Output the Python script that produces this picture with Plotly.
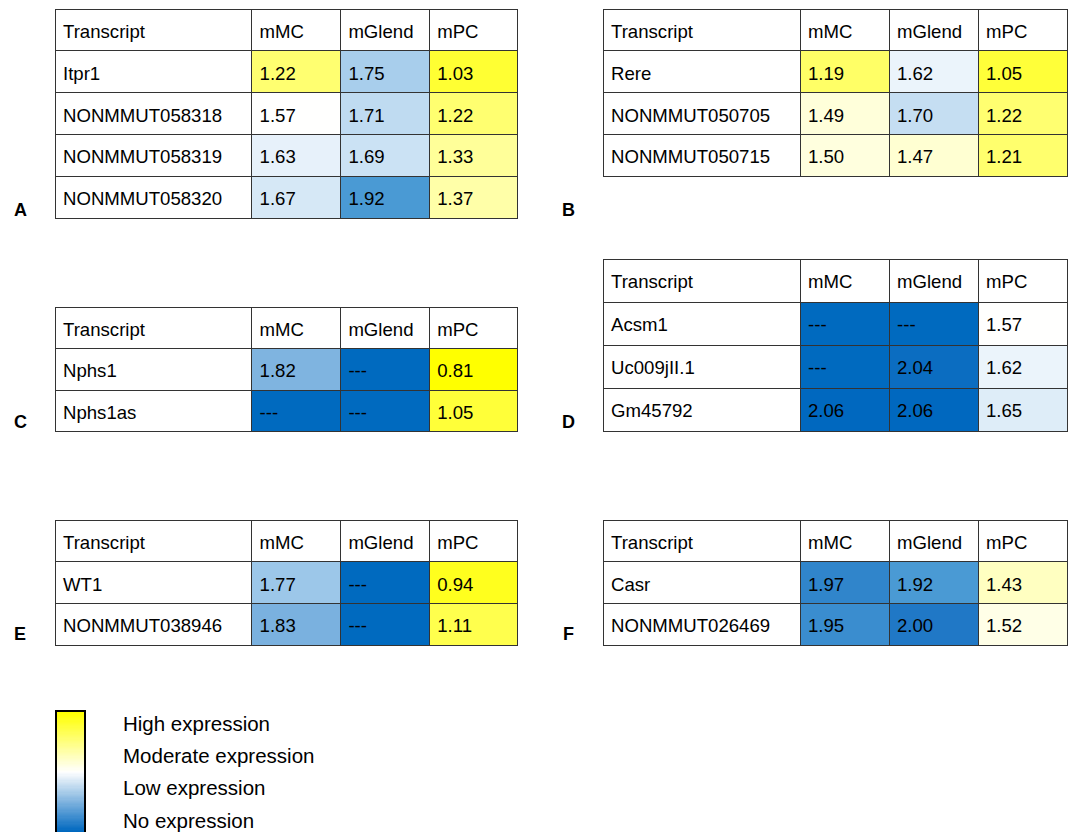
import plotly.graph_objects as go
from plotly.colors import sample_colorscale

# ---------------- data ----------------
columns = ["Transcript", "mMC", "mGlend", "mPC"]

a_transcripts = ["Itpr1", "NONMMUT058318", "NONMMUT058319", "NONMMUT058320"]
a_mMC = [1.22, 1.57, 1.63, 1.67]
a_mGlend = [1.75, 1.71, 1.69, 1.92]
a_mPC = [1.03, 1.22, 1.33, 1.37]

b_transcripts = ["Rere", "NONMMUT050705", "NONMMUT050715"]
b_mMC = [1.19, 1.49, 1.50]
b_mGlend = [1.62, 1.70, 1.47]
b_mPC = [1.05, 1.22, 1.21]

c_transcripts = ["Nphs1", "Nphs1as"]
c_mMC = [1.82, None]
c_mGlend = [None, None]
c_mPC = [0.81, 1.05]

d_transcripts = ["Acsm1", "Uc009jII.1", "Gm45792"]
d_mMC = [None, None, 2.06]
d_mGlend = [None, 2.04, 2.06]
d_mPC = [1.57, 1.62, 1.65]

e_transcripts = ["WT1", "NONMMUT038946"]
e_mMC = [1.77, 1.83]
e_mGlend = [None, None]
e_mPC = [0.94, 1.11]

f_transcripts = ["Casr", "NONMMUT026469"]
f_mMC = [1.97, 1.95]
f_mGlend = [1.92, 2.00]
f_mPC = [1.43, 1.52]

legend_labels = ["High expression", "Moderate expression", "Low expression", "No expression"]
panel_letters = ["A", "B", "C", "D", "E", "F"]

# ---------------- styling ----------------
W, H = 1072, 832
VMIN, VMAX = 0.81, 2.06
cell_scale = [
    [0.0, "#FFFF00"], [0.176, "#FFFF33"], [0.328, "#FFFF70"], [0.448, "#FFFFA8"],
    [0.55, "#FFFFDD"], [0.61, "#FFFFFF"], [0.688, "#D6E8F6"], [0.752, "#A8CEEC"],
    [0.808, "#7FB4E0"], [0.888, "#4A9AD4"], [0.952, "#2078C6"], [1.0, "#0068BF"],
]
FONT = "Liberation Sans, Arial, sans-serif"
FS = 18.6
TEXT_DY = 7          # table text is drawn top-aligned; shift it down to centre it
CLEAR = "rgba(0,0,0,0)"


def color_for(v):
    if v is None:
        return "#006ABF"
    t = min(max((v - VMIN) / (VMAX - VMIN), 0), 1)
    return sample_colorscale(cell_scale, [t])[0]


def fmt(v):
    return "---" if v is None else f"{v:.2f}"


fig = go.Figure()

panels = [
    (a_transcripts, a_mMC, a_mGlend, a_mPC, 55, 9, 41.8),
    (b_transcripts, b_mMC, b_mGlend, b_mPC, 603, 9, 41.8),
    (c_transcripts, c_mMC, c_mGlend, c_mPC, 55, 307, 41.5),
    (d_transcripts, d_mMC, d_mGlend, d_mPC, 603, 259, 43),
    (e_transcripts, e_mMC, e_mGlend, e_mPC, 55, 520, 41.7),
    (f_transcripts, f_mMC, f_mGlend, f_mPC, 603, 520, 41.7),
]
TW = 464
CW = [197, 89, 89, 89]
for tr, m1, m2, m3, left, top, rh in panels:
    n = len(tr)
    bottom = top + rh * (n + 1) + 4
    # grid + fills
    fig.add_trace(go.Table(
        domain=dict(x=[left / W, (left + TW) / W], y=[1 - bottom / H, 1 - top / H]),
        columnwidth=CW,
        header=dict(values=[""] * 4, fill_color="white",
                    line=dict(color="#333333", width=1), height=rh),
        cells=dict(values=[[""] * n] * 4,
                   fill_color=[["white"] * n, [color_for(v) for v in m1],
                               [color_for(v) for v in m2], [color_for(v) for v in m3]],
                   line=dict(color="#333333", width=1), height=rh),
    ))
    # text layer
    t2, b2 = top + TEXT_DY, bottom + TEXT_DY + 6
    fig.add_trace(go.Table(
        domain=dict(x=[left / W, (left + TW) / W], y=[1 - b2 / H, 1 - t2 / H]),
        columnwidth=CW,
        header=dict(values=columns, fill_color=CLEAR, align="left",
                    line=dict(color=CLEAR, width=0), height=rh,
                    font=dict(family=FONT, size=FS, color="black")),
        cells=dict(values=[tr, [fmt(v) for v in m1], [fmt(v) for v in m2], [fmt(v) for v in m3]],
                   fill_color=CLEAR, align="left", line=dict(color=CLEAR, width=0), height=rh,
                   font=dict(family=FONT, size=FS, color="black")),
    ))

# legend gradient bar
grad = [[i] for i in range(100)]
fig.add_trace(go.Heatmap(
    z=grad, x=[0], y=list(range(100)), showscale=False, hoverinfo="skip",
    colorscale=[[0, "#0068BF"], [0.5, "#FFFFFF"], [1, "#FFFF00"]],
    xaxis="x", yaxis="y",
))

letter_pos = [(20, 210), (568, 210), (20, 422), (568, 422), (20, 634), (568, 634)]
annotations = []
for L, (x, y) in zip(panel_letters, letter_pos):
    annotations.append(dict(text=L, x=x / W, y=1 - y / H, xref="paper", yref="paper",
                            showarrow=False, xanchor="center", yanchor="middle",
                            font=dict(family=FONT, size=18, color="black", weight="bold")))
for i, lab in enumerate(legend_labels):
    annotations.append(dict(text=lab, x=121 / W, y=1 - (723 + 32.4 * i) / H,
                            xref="paper", yref="paper", showarrow=False,
                            xanchor="left", yanchor="middle",
                            font=dict(family=FONT, size=20.5, color="black")))

fig.update_layout(
    width=W, height=H, margin=dict(l=0, r=0, t=0, b=0),
    paper_bgcolor="white", plot_bgcolor="white",
    xaxis=dict(domain=[57 / W, 84 / W], showticklabels=False, ticks="", showgrid=False,
               zeroline=False, showline=True, mirror=True, linewidth=2, linecolor="black"),
    yaxis=dict(domain=[0, 1 - 712 / H], showticklabels=False, ticks="", showgrid=False,
               zeroline=False, showline=True, mirror=True, linewidth=2, linecolor="black",
               range=[-0.5, 99.5]),
    annotations=annotations,
)

fig.write_html("out.html", config={"displayModeBar": False},
               post_script="document.body.style.margin='0px';")
